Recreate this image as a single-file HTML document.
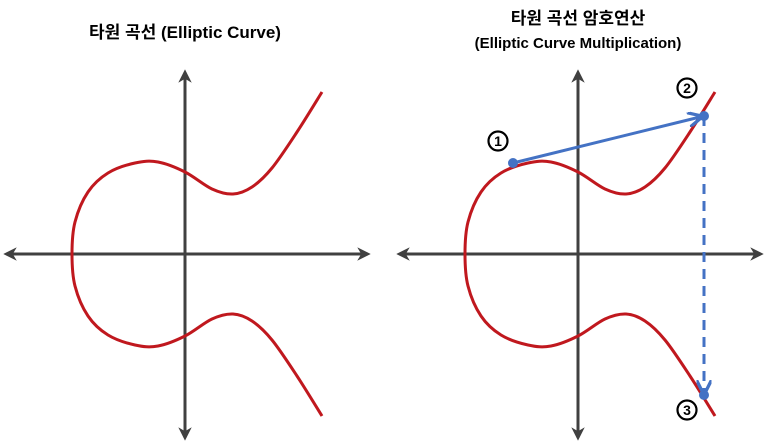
<!DOCTYPE html>
<html><head><meta charset="utf-8"><style>
html,body{margin:0;padding:0;background:#fff;}
svg{display:block;}
text{font-family:"Liberation Sans","Noto Sans CJK KR",sans-serif;font-weight:bold;fill:#000;}
</style></head><body>
<svg id="c" width="768" height="444" viewBox="0 0 768 444">
<defs>
<marker id="ah" viewBox="0 0 10 10" refX="8" refY="5" markerWidth="4.5" markerHeight="4.5" orient="auto-start-reverse"><path d="M0,0 L10,5 L0,10 L3,5 z" fill="#404040"/></marker>
<marker id="bh" viewBox="0 0 10 10" refX="8" refY="5" markerWidth="5" markerHeight="5" orient="auto"><path d="M0,0 L10,5 L0,10" fill="none" stroke="#4472C4" stroke-width="2.2"/></marker>
</defs>
<text x="185" y="38" font-size="17" text-anchor="middle">타원 곡선 (Elliptic Curve)</text>
<text x="578" y="24" font-size="17" text-anchor="middle">타원 곡선 암호연산</text>
<text x="578" y="48" font-size="15" text-anchor="middle">(Elliptic Curve Multiplication)</text>
<g id="left"></g>
<g id="right" transform="translate(393,0)"></g>
</svg>
<script>
const upperX=[72,75,88,108,135,158,185,212,233,252,272,297,322];
const upperY=[254,222,192,173,163,162,172,189,194,187,168,132,92];
const axisY=254;
const NS="http://www.w3.org/2000/svg";
function mk(t,a,p){const e=document.createElementNS(NS,t);for(const k in a)e.setAttribute(k,a[k]);p.appendChild(e);return e;}
function cr(pts){let d="M"+pts[0][0]+","+pts[0][1];for(let i=0;i<pts.length-1;i++){const p0=pts[i-1]||pts[i],p1=pts[i],p2=pts[i+1],p3=pts[i+2]||p2;d+=" C"+(p1[0]+(p2[0]-p0[0])/6)+","+(p1[1]+(p2[1]-p0[1])/6)+" "+(p2[0]-(p3[0]-p1[0])/6)+","+(p2[1]-(p3[1]-p1[1])/6)+" "+p2[0]+","+p2[1];}return d;}
function panel(g){
 const ax=mk('line',{x1:6,y1:axisY,x2:368,y2:axisY,stroke:'#404040','stroke-width':3,'marker-start':'url(#ah)','marker-end':'url(#ah)'},g);
 
 const ay=mk('line',{x1:185,y1:72,x2:185,y2:438,stroke:'#404040','stroke-width':3,'marker-start':'url(#ah)','marker-end':'url(#ah)'},g);
 
 const up=upperX.map((x,i)=>[x,upperY[i]]);
 const lo=up.slice().reverse().map(p=>[p[0],2*axisY-p[1]]);
 const pts=lo.concat(up.slice(1));
 const c=mk('path',{d:cr(pts),fill:'none',stroke:'#C0181E','stroke-width':3},g);
 
}
panel(document.getElementById('left'));
const R=document.getElementById('right');
panel(R);
const p1=[120,163],p2=[311,116],p3=[311,395];
const a1=mk('line',{x1:p1[0],y1:p1[1],x2:p2[0]-4,y2:p2[1]+1,stroke:'#4472C4','stroke-width':3,'marker-end':'url(#bh)'},R);

const a2=mk('line',{x1:p2[0],y1:p2[1],x2:p3[0],y2:p3[1]-3,stroke:'#4472C4','stroke-width':3,'stroke-dasharray':'10,7','marker-end':'url(#bh)'},R);

[[p1,'point-1'],[p2,'point-2'],[p3,'point-3']].forEach(([p,n])=>{const c=mk('circle',{cx:p[0],cy:p[1],r:5,fill:'#4472C4'},R);});
[[105,141,'1'],[294,88,'2'],[294,410,'3']].forEach(([x,y,t])=>{
 const c=mk('circle',{cx:x,cy:y,r:9.5,fill:'#fff',stroke:'#000','stroke-width':2.2},R);
 
 const tx=mk('text',{x:x,y:y+5,'font-size':14,'text-anchor':'middle'},R);tx.textContent=t;
 
});
</script>
</body></html>
